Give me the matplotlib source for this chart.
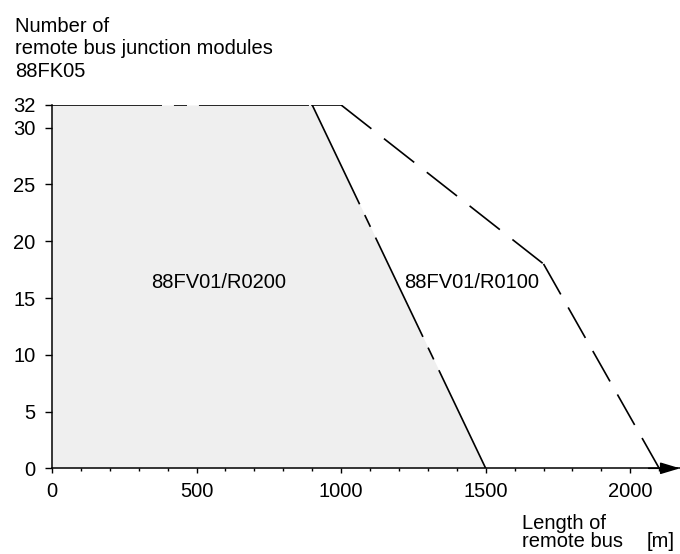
import matplotlib
matplotlib.use("Agg")
import matplotlib.pyplot as plt

# data
x_r0200 = [0, 900, 1500]
y_r0200 = [32, 32, 0]
x_r0100 = [900, 1000, 1700, 2100]
y_r0100 = [32, 32, 18, 0]

x_major = [0, 500, 1000, 1500, 2000]
x_minor = list(range(0, 2200, 100))
y_ticks = [0, 5, 10, 15, 20, 25, 30, 32]

plt.rcParams['font.family'] = ['Liberation Sans', 'DejaVu Sans']
plt.rcParams['font.size'] = 14.5
plt.rcParams['lines.scale_dashes'] = False

W, H = 680, 554
fig = plt.figure(figsize=(W / 100, H / 100), dpi=100)
ax = fig.add_axes([52 / W, (H - 468.3) / H, 628 / W, 363.3 / H])

ax.set_xlim(0, 2172)
ax.set_ylim(0, 32)

# grey area under the R0200 limit
ax.fill_between(x_r0200, y_r0200, 0, color='#efefef', lw=0, zorder=1)

# R0200 limit: solid with a short break in every segment
brk = (0, (79.2, 8.6, 9.4, 8.6))
for i in range(len(x_r0200) - 1):
    ax.plot(x_r0200[i:i + 2], y_r0200[i:i + 2], color='black', lw=1.2,
            linestyle=brk, zorder=3)

# R0100 limit: dashed
styles_r0100 = ['-', (0, (27.7, 11.5)), (0, (25.2, 10.8))]
for i in range(len(x_r0100) - 1):
    ax.plot(x_r0100[i:i + 2], y_r0100[i:i + 2], color='black', lw=1.2,
            linestyle=styles_r0100[i], zorder=3)

ax.text(344, 15.9, '88FV01/R0200', ha='left', va='baseline')
ax.text(1217, 15.9, '88FV01/R0100', ha='left', va='baseline')

for s in ['top', 'right']:
    ax.spines[s].set_visible(False)
for s in ['left', 'bottom']:
    ax.spines[s].set_linewidth(1.1)

ax.annotate('', xy=(1.0, 0), xytext=(0.95, 0),
            xycoords=('axes fraction', 'data'),
            arrowprops=dict(arrowstyle='-|>,head_length=1.2,head_width=0.36',
                            mutation_scale=10, color='black', lw=1.1,
                            shrinkA=0, shrinkB=0),
            annotation_clip=False)

ax.set_xticks(x_major)
ax.set_xticks(x_minor, minor=True)
ax.set_yticks(y_ticks)
ax.tick_params(axis='x', which='major', length=3.6, width=1.0, pad=6)
ax.tick_params(axis='x', which='minor', length=2.0, width=1.0)
ax.tick_params(axis='y', which='major', length=4.8, width=1.0, pad=7)

fig.text(15 / W, 1 - 31.7 / H, 'Number of', ha='left', va='baseline')
fig.text(15 / W, 1 - 54.2 / H, 'remote bus junction modules', ha='left', va='baseline')
fig.text(15 / W, 1 - 77.0 / H, '88FK05', ha='left', va='baseline')

fig.text(521.7 / W, 1 - 529.3 / H, 'Length of', ha='left', va='baseline')
fig.text(521.7 / W, 1 - 546.7 / H, 'remote bus', ha='left', va='baseline')
fig.text(646.7 / W, 1 - 546.7 / H, '[m]', ha='left', va='baseline')

fig.savefig('out.png', dpi=100)
